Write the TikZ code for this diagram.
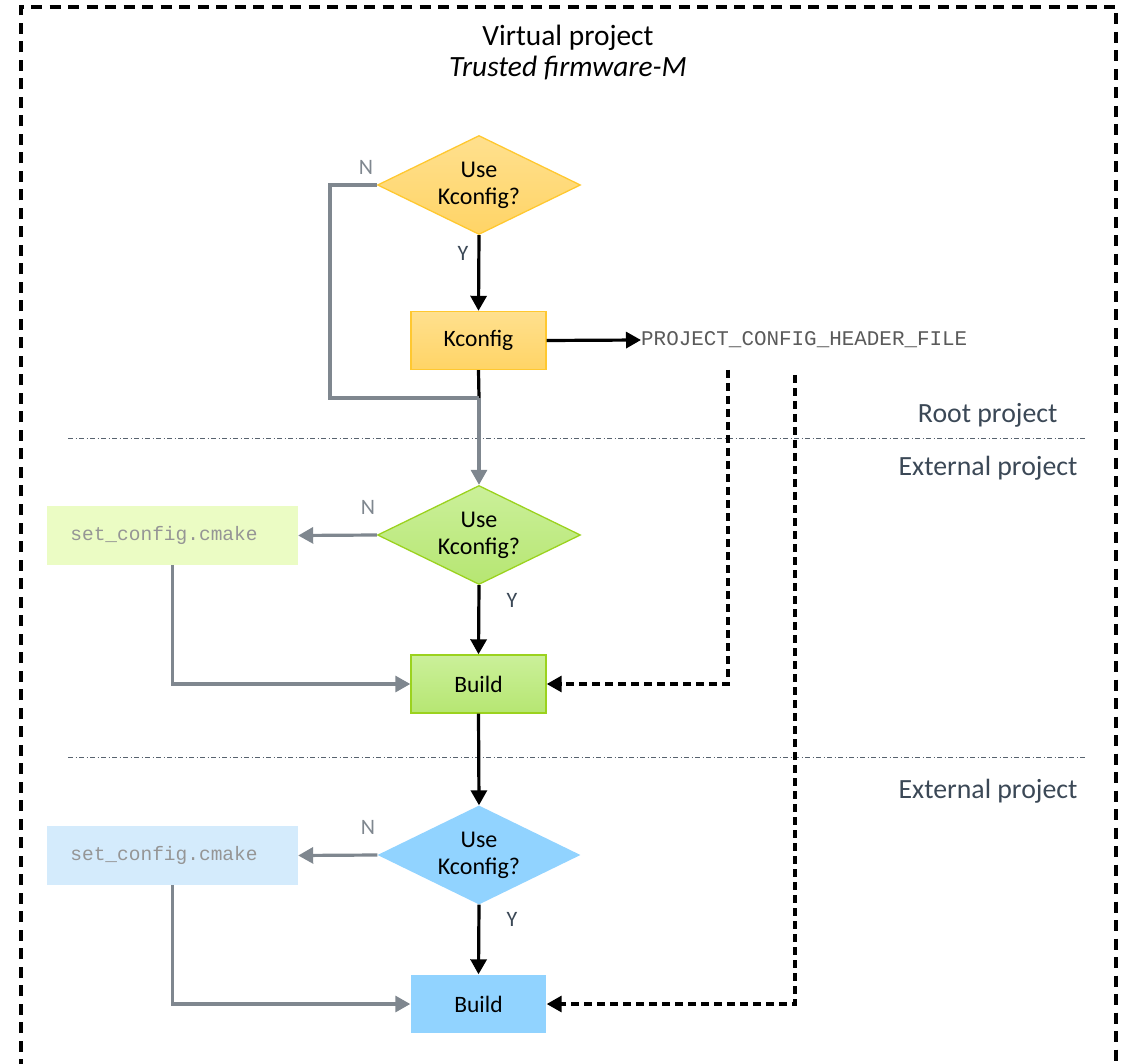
\documentclass[tikz,border=0pt]{standalone}
\usepackage{fontspec}
\setmainfont{Carlito}
\newfontfamily\codefont{Liberation Mono}
\usetikzlibrary{shapes.geometric,arrows.meta}
\definecolor{yltop}{HTML}{FFE08E}
\definecolor{ylbot}{HTML}{FFD466}
\definecolor{ylline}{HTML}{FFC830}
\definecolor{grtop}{HTML}{CBF09A}
\definecolor{grbot}{HTML}{B6E672}
\definecolor{grline}{HTML}{9BD21E}
\definecolor{grlight}{HTML}{EBFCC4}
\definecolor{bl}{HTML}{91D3FF}
\definecolor{bllight}{HTML}{D4EBFC}
\definecolor{graylink}{HTML}{7F878F}
\definecolor{slate}{HTML}{3B4856}
\definecolor{codegray}{HTML}{959595}
\definecolor{codedark}{HTML}{5A5A5A}
\begin{document}
\begin{tikzpicture}[x=1pt,y=-1pt,
  decision/.style={diamond,inner sep=0pt,minimum width=203pt,minimum height=99pt,aspect=2,align=center,font=\fontsize{24}{27}\selectfont},
  procbox/.style={rectangle,minimum width=135pt,minimum height=58pt,inner sep=0pt,font=\fontsize{23.5}{27}\selectfont,line width=1.4pt},
  cfgbox/.style={rectangle,minimum width=251pt,minimum height=59pt,inner sep=0pt,font=\codefont\fontsize{19.5}{22}\selectfont,text=codegray},
  blk/.style={line width=3.2pt,-{Triangle[length=15pt,width=16pt]}},
  gry/.style={line width=3.2pt,draw=graylink,-{Triangle[length=15pt,width=16pt]}},
  dsh/.style={line width=3.2pt,dash pattern=on 8pt off 5pt,-{Triangle[length=15pt,width=16pt]}},
  sep/.style={line width=1pt,draw=slate!85,dash pattern=on 5pt off 2.5pt on 1pt off 2.5pt},
  lbl/.style={text=slate,font=\fontsize{27.8}{31}\selectfont},
  yn/.style={font=\fontsize{22}{26}\selectfont}
]
\useasboundingbox (0,0) rectangle (1125,1064);
% frame
\draw[line width=3.2pt,dash pattern=on 11pt off 7.5pt] (21,1070) -- (21,7) -- (1116,7) -- (1116,1070);
% title
\node[font=\fontsize{29.4}{31}\selectfont,align=center] (title) at (568,53) {Virtual project\\\textit{Trusted firmware-M}};
% separators
\coordinate (s1a) at (68,439); \coordinate (s1b) at (1085,439);
\coordinate (s2a) at (68,757); \coordinate (s2b) at (1085,757);
\draw[sep] (s1a) -- (s1b);
\draw[sep] (s2a) -- (s2b);
\node[lbl,anchor=east] (root) at (1061,415) {Root project};
\node[lbl,anchor=east] (ext1) at (1081,468) {External project};
\node[lbl,anchor=east] (ext2) at (1081,791) {External project};
% yellow
\node[decision,top color=yltop,bottom color=ylbot,draw=ylline,line width=1.3pt] (d1) at (479,185) {Use\\Kconfig?};
\node[procbox,top color=yltop,bottom color=ylbot,draw=ylline] (kc) at (478.5,340.5) {Kconfig};
\node[anchor=west,font=\codefont\fontsize{20.9}{24}\selectfont,text=codedark,inner sep=0pt] (hdr) at (641,340) {PROJECT\_CONFIG\_HEADER\_FILE};
% green
\node[decision,top color=grtop,bottom color=grbot,draw=grline,line width=1.3pt] (d2) at (479,535) {Use\\Kconfig?};
\node[cfgbox,fill=grlight] (c2) at (172.5,535.5) {set\_config.cmake\kern17pt};
\node[procbox,top color=grtop,bottom color=grbot,draw=grline] (b2) at (478.5,684) {Build};
% blue
\node[decision,fill=bl] (d3) at (479,855) {Use\\Kconfig?};
\node[cfgbox,fill=bllight] (c3) at (172.5,855.5) {set\_config.cmake\kern17pt};
\node[procbox,fill=bl] (b3) at (478.5,1004) {Build};
% yellow connectors
\draw[blk] (d1.south) -- (kc.north);
\node[yn,text=slate] (y1) at (463,253) {Y};
\draw[blk] (kc.east) -- (hdr.west);
\coordinate (j1) at (479,398);
\draw[line width=3.2pt] (kc.south) -- (j1);
\draw[line width=3.2pt,draw=graylink,line join=miter] (d1.west) -- (330,185) -- (330,398) -- (j1);
\draw[gry] (j1) -- (d2.north);
\node[yn,text=graylink] (n1) at (366,167) {N};
% green connectors
\draw[gry] (d2.west) -- (c2.east);
\node[yn,text=graylink] (n2) at (368,507) {N};
\draw[blk] (d2.south) -- (b2.north);
\node[yn,text=slate] (y2) at (512,600) {Y};
\draw[gry] (c2.south) |- (b2.west);
\coordinate (h1) at (728,370);
\draw[dsh] (h1) |- (b2.east);
% blue connectors
\draw[blk] (b2.south) -- (d3.north);
\draw[gry] (d3.west) -- (c3.east);
\node[yn,text=graylink] (n3) at (368,827) {N};
\draw[blk] (d3.south) -- (b3.north);
\node[yn,text=slate] (y3) at (512,919) {Y};
\draw[gry] (c3.south) |- (b3.west);
\coordinate (h2) at (795,375);
\draw[dsh] (h2) |- (b3.east);
\end{tikzpicture}
\end{document}
